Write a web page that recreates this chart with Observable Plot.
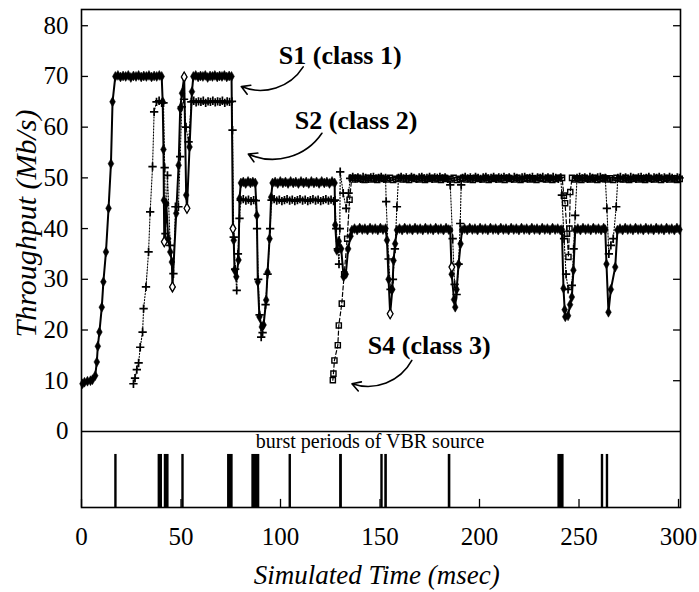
<!DOCTYPE html>
<html><head><meta charset="utf-8">
<script src="https://cdn.jsdelivr.net/npm/d3@7"></script>
<script src="https://cdn.jsdelivr.net/npm/@observablehq/plot@0.6"></script>
<style>
body{margin:0;background:#fff}
#chart svg, #chart svg text { font-family: "Liberation Serif", "Times New Roman", serif !important; }
</style>
</head><body><div id="chart"></div>
<script>
// ---- data (time in msec, throughput in Mb/s) ----
const xTicks = [0, 50, 100, 150, 200, 250, 300];
const yTicks = [0, 10, 20, 30, 40, 50, 60, 70, 80];

const s1 = [[0.5,9.4],[1.5,9.7],[3,9.9],[4.5,10],[5.5,10.2],[6.9,11],[7.7,13.7],[8.2,16.8],[9,19.6],[10.2,24.5],[11,29.5],[12.3,35.4],[13.6,44],[14.8,52.8],[15.6,65],[17,70],
[18.3,70.2],[19.6,69.9],[20.9,70.1],[22.2,70],[23.5,70.2],[24.8,69.8],[26.1,70.1],[27.4,70],[28.7,70.2],[30,69.9],[31.3,70.1],[32.6,70],[33.9,70.2],[35.2,69.9],[36.5,70.1],[37.8,70],[39.1,70.2],[40.3,70],
[40.8,65],[41.2,55.6],[41.4,45.6],[41.6,37.4],[42.6,44.9],[43.6,38],[44.6,35.4],[45.4,33.4],[45.7,28.5],[47.6,43],[48.8,52.5],[49.6,63.7],[50.5,66.7],[51.6,69.9],[52.6,46.6],[53,44],[54.3,56.1],[55.5,67],[56.2,70],
[57.4,70.2],[58.6,69.9],[59.8,70.1],[61,70],[62.2,70.2],[63.4,69.8],[64.6,70.1],[65.8,70],[67,70.2],[68.2,69.9],[69.4,70.1],[70.6,70],[71.8,70.2],[73,69.9],[74.2,70.1],[75.4,70],
[76.1,40],[76.5,37.7],[76.9,31.8],[77.8,30.5],[78.9,33.8],[79.4,45.9],[80.1,49],
[81.3,49.2],[82.5,48.9],[83.7,49.3],[84.9,49],[86.1,49.2],[87.3,49],
[88.1,42.6],[88.6,29.5],[89.4,22.6],[90.6,20.6],[91.5,21],[92.8,25.9],[93.5,31.4],[94.5,38],[95.3,46.2],[96,49],
[97.3,49.2],[98.6,48.9],[99.9,49.3],[101.2,49],[102.5,49.2],[103.8,48.9],[105.1,49.3],[106.4,49],[107.7,49.2],[109,48.9],[110.3,49.3],[111.6,49],[112.9,49.2],[114.2,48.9],[115.5,49.3],[116.8,49],[118.1,49.2],[119.4,48.9],[120.7,49.3],[122,49],[123.3,49.2],[124.6,48.9],[125.9,49.3],[127.2,49],
[127.5,40.7],[128.3,35.7],[129.3,37.5],[130.5,36],[131.7,30.5],[132.8,31],[134,36],[135.2,38.5],[135.9,39.7],
[137.2,40],[138.5,39.7],[139.8,40.1],[141.1,39.8],[142.4,40],[143.7,39.7],[145,40.1],[146.3,39.8],[147.6,40],[148.9,39.7],[150.2,40.1],[151.5,39.8],[152.8,40],
[153.5,37.7],[154.3,30],[155.1,23.2],[156.2,28],[156.8,33.7],[157.6,37],[158.5,39.7],
[159.8,40],[161.1,39.7],[162.4,40.1],[163.7,39.8],[165,40],[166.3,39.7],[167.6,40.1],[168.9,39.8],[170.2,40],[171.5,39.7],[172.8,40.1],[174.1,39.8],[175.4,40],[176.7,39.7],[178,40.1],[179.3,39.8],[180.6,40],[181.9,39.7],[183.2,40.1],[184.5,39.8],[185.3,39.7],
[186,31],[187.2,26],[187.8,24.5],[188.5,28],[189.5,33],[190.5,37],[191.2,39.7],
[192.5,40],[193.8,39.7],[195.1,40.1],[196.4,39.8],[197.7,40],[199,39.7],[200.3,40.1],[201.6,39.8],[202.9,40],[204.2,39.7],[205.5,40.1],[206.8,39.8],[208.1,40],[209.4,39.7],[210.7,40.1],[212,39.8],[213.3,40],[214.6,39.7],[215.9,40.1],[217.2,39.8],[218.5,40],[219.8,39.7],[221.1,40.1],[222.4,39.8],[223.7,40],[225,39.7],[226.3,40.1],[227.6,39.8],[228.9,40],[230.2,39.7],[231.5,40.1],[232.8,39.8],[234.1,40],[235.4,39.7],[236.7,40.1],[238,39.8],[239.3,40],[240.6,39.7],[241.4,39.8],
[242.2,28.2],[242.8,24],[243.1,22.6],[244.5,22.8],[245.5,25],[246.4,26.5],[247.2,31.8],[248.1,39.7],
[249.4,40],[250.7,39.7],[252,40.1],[253.3,39.8],[254.6,40],[255.9,39.7],[257.2,40.1],[258.5,39.8],[259.8,40],[261.1,39.7],[262.4,40.1],[263.2,39.8],
[263.8,33],[264.8,23.5],[266,28],[268.2,32.4],[269.3,39.7],
[270.6,40],[271.9,39.7],[273.2,40.1],[274.5,39.8],[275.8,40],[277.1,39.7],[278.4,40.1],[279.7,39.8],[281,40],[282.3,39.7],[283.6,40.1],[284.9,39.8],[286.2,40],[287.5,39.7],[288.8,40.1],[290.1,39.8],[291.4,40],[292.7,39.7],[294,40.1],[295.3,39.8],[296.6,40],[297.9,39.7],[299.2,40.1],[300.5,39.8]];

const s2 = [[26.1,9.4],[26.9,10.5],[27.8,12.2],[28.7,13.5],[29.5,16.6],[30.7,19.6],[31.2,24.2],[32.4,28.5],[33.7,35.4],[34.5,43.3],[35.7,52.2],[36.5,63],[37.7,65],[39,65.2],[40.3,64.8],[41.2,64.8],[41.8,52],[42.2,39],[43.2,50.5],[44.6,36.7],[46.2,31.1],[47.2,44.3],[48.7,44.3],[49.6,54.2],[50.4,64],[51.5,65.5],[52.5,60],[53.8,57.1],[55.2,65],
[56.4,65.2],[57.6,64.9],[58.8,65.1],[60,65],[61.2,65.2],[62.4,64.8],[63.6,65.1],[64.8,65],[66,65.2],[67.2,64.9],[68.4,65.1],[69.6,65],[70.8,65.2],[72,64.8],[73.2,65.1],[74.4,65],[75.6,65.1],
[75.9,59.4],[76.5,38.3],[77.2,32],[78,27.8],[78.6,35],[79.4,42],[80,45.6],
[81.3,45.8],[82.6,45.5],[83.9,45.7],[85.2,45.4],[86.5,45.6],[87.6,45.5],
[88.2,40],[88.8,30],[89.5,23],[90.3,18.6],[91,19.5],[92.5,25],[93.5,31],[94.8,40],[95.5,45.6],
[96.8,45.8],[98.1,45.5],[99.4,45.7],[100.7,45.4],[102,45.6],[103.3,45.8],[104.6,45.5],[105.9,45.7],[107.2,45.4],[108.5,45.6],[109.8,45.8],[111.1,45.5],[112.4,45.7],[113.7,45.4],[115,45.6],[116.3,45.8],[117.6,45.5],[118.9,45.7],[120.2,45.4],[121.5,45.6],[122.8,45.8],[124.1,45.5],[125.4,45.7],[126.7,45.4],[127.4,45.6],
[128,40],[128.8,36],[129.4,33],[129.8,40],[130,51.2],[131.5,47],[133,44],[134.2,47],[135,49.9],
[136.3,50.2],[137.6,49.9],[138.9,50.1],[140.2,49.8],[141.5,50.2],[142.8,50],[144.1,49.8],[145.4,50.1],[146.7,50.2],[148,49.9],[149.3,50],[150.6,50.2],[151.9,49.8],[152.8,50],
[153.1,45.3],[154.3,34],[155.3,28],[156.5,30],[157.5,36],[158.5,44.3],[159.3,50],
[160.6,50.2],[161.9,49.9],[163.2,50.1],[164.5,49.8],[165.8,50.2],[167.1,50],[168.4,49.8],[169.7,50.1],[171,50.2],[172.3,49.9],[173.6,50],[174.9,50.2],[176.2,49.8],[177.5,50.1],[178.8,50],[180.1,50.2],[181.4,49.9],[182.7,50.1],[184,49.8],[185.3,48.6],
[186.5,38],[187.5,29],[188.5,27],[189.5,33],[190.3,41],[190.8,48.6],[191.5,50],
[192.8,50.2],[194.1,49.9],[195.4,50.1],[196.7,49.8],[198,50.2],[199.3,50],[200.6,49.8],[201.9,50.1],[203.2,50.2],[204.5,49.9],[205.8,50],[207.1,50.2],[208.4,49.8],[209.7,50.1],[211,50],[212.3,50.2],[213.6,49.9],[214.9,50.1],[216.2,49.8],[217.5,50.2],[218.8,50],[220.1,49.8],[221.4,50.1],[222.7,50.2],[224,49.9],[225.3,50],[226.6,50.2],[227.9,49.8],[229.2,50.1],[230.5,50],[231.8,50.2],[233.1,49.9],[234.4,50.1],[235.7,49.8],[237,50.2],[238.3,50],[239.6,49.8],[240.8,50.1],
[241.4,46.6],[242.5,38],[243.5,31],[244.5,28],[246.4,28.8],[247.3,36],[248.1,42.6],[249,50],
[250.3,50.2],[251.6,49.9],[252.9,50.1],[254.2,49.8],[255.5,50.2],[256.8,50],[258.1,49.8],[259.4,50.1],[260.7,50.2],[262,49.9],[263.2,50],
[264,44],[265,35],[266,36.7],[267.2,38],[268.7,44.3],[269.5,50],
[270.8,50.2],[272.1,49.9],[273.4,50.1],[274.7,49.8],[276,50.2],[277.3,50],[278.6,49.8],[279.9,50.1],[281.2,50.2],[282.5,49.9],[283.8,50],[285.1,50.2],[286.4,49.8],[287.7,50.1],[289,50],[290.3,50.2],[291.6,49.9],[292.9,50.1],[294.2,49.8],[295.5,50.2],[296.8,50],[298.1,49.8],[299.4,50.1],[300.5,50]];

const s4 = [[126.3,10.1],[126.6,11.4],[127.1,14],[128.8,17],[129.3,20.9],[130.8,25.2],[132,31],[133.5,38],[134.7,45.7],[135.8,50],
[137.4,49.7],[139,50],[140.6,49.8],[142.2,49.6],[143.8,50],[145.4,49.7],[147,49.9],[148.6,49.6],[150.2,50],[151.8,49.8],[153.4,49.7],[155,50],[156.6,49.6],[158.2,49.8],[159.8,50],[161.4,49.7],[163,49.9],[164.6,49.6],[166.2,50],[167.8,49.8],[169.4,49.7],[171,50],[172.6,49.6],[174.2,49.8],[175.8,50],[177.4,49.7],[179,49.9],[180.6,49.6],[182.2,50],[183.8,49.8],[185.4,49.7],[187,50],[188.6,49.6],[190.2,49.8],[191.8,50],[193.4,49.7],[195,49.9],[196.6,49.6],[198.2,50],[199.8,49.8],[201.4,49.7],[203,50],[204.6,49.6],[206.2,49.8],[207.8,50],[209.4,49.7],[211,49.9],[212.6,49.6],[214.2,50],[215.8,49.8],[217.4,49.7],[219,50],[220.6,49.6],[222.2,49.8],[223.8,50],[225.4,49.7],[227,49.9],[228.6,49.6],[230.2,50],[231.8,49.8],[233.4,49.7],[235,50],[236.6,49.6],[238.2,49.8],[239.8,50],
[241.5,50],[242.4,46.5],[243,45],[244,39],[244.7,34.4],[245.2,40],[245.6,47.2],[246.5,50],
[248,49.7],[249.6,49.9],[251.2,49.6],[252.8,50],[254.4,49.8],[256,49.7],[257.6,50],[259.2,49.6],[260.8,49.8],[262.4,50],[264,49.7],[265.6,49.9],[267.2,49.6],[268.8,50],[270.4,49.8],[272,49.7],[273.6,50],[275.2,49.6],[276.8,49.8],[278.4,50],[280,49.7],[281.6,49.9],[283.2,49.6],[284.8,50],[286.4,49.8],[288,49.7],[289.6,50],[291.2,49.6],[292.8,49.8],[294.4,50],[296,49.7],[297.6,49.9],[299.2,49.6],[300.6,49.8]];

// open-diamond points
const s3 = [[41.6,37.4],[45.7,28.5],[51.6,69.9],[53,44],[76.1,40],[155.1,23.2],[186.1,32.4]];

// burst periods of the VBR source (start, end in msec)
const burstStart = [17.1, 38.9, 42.0, 50.8, 73.8, 86.0, 104.7, 130.1, 150.8, 152.8, 184.7, 239.8, 261.6, 264.1];
const burstEnd   = [17.5, 40.3, 43.6, 51.2, 75.8, 89.2, 105.1, 130.7, 151.2, 153.3, 185.2, 242.1, 262.0, 264.5];

const labels = [
  {text: "S1 (class 1)", t: 130, v: 74},
  {text: "S2 (class 2)", t: 138, v: 61.2},
  {text: "S4 (class 3)", t: 174.7, v: 17}
];
const arrows = [
  {t1: 111.4, v1: 71.9, t2: 80.3, v2: 68},
  {t1: 120.8, v1: 58.8, t2: 83.8, v2: 54.7},
  {t1: 166, v1: 14, t2: 135.9, v2: 9.4}
];
const burstLabel = [{text: "burst periods of VBR source", t: 145, v: -2.1}];
const yTitle = [{text: "Throughput (Mb/s)", t: 0, v: 41}];
const xTitle = [{text: "Simulated Time (msec)", t: 148.4, v: -28.4}];

// ---- build ----
const rows = (pairs) => pairs.map(([t, v]) => ({t, v}));
const S1 = rows(s1), S2 = rows(s2), S3 = rows(s3), S4 = rows(s4);
const bursts = burstStart.map((s, i) => ({s, e: burstEnd[i]}));
const panelBottom = -15, burstTop = -4.54;
const font = "Liberation Serif, Times New Roman, serif";

const chart = Plot.plot({
  width: 699, height: 592,
  marginLeft: 81, marginRight: 19, marginTop: 9, marginBottom: 85,
  x: {domain: [0, 301]},
  y: {domain: [panelBottom, 83.2]},
  style: {fontFamily: font, background: "white", color: "black"},
  marks: [
    Plot.frame({stroke: "black", strokeWidth: 1.6}),
    Plot.ruleY([0], {stroke: "black", strokeWidth: 1.6}),
    Plot.ruleY(yTicks.slice(1), {x1: 0, x2: 3.5, stroke: "black", strokeWidth: 1.3}),
    Plot.ruleY(yTicks.slice(1), {x1: 297.5, x2: 301, stroke: "black", strokeWidth: 1.3}),
    Plot.ruleX(xTicks, {y1: panelBottom, y2: panelBottom + 1.6, stroke: "black", strokeWidth: 1.3}),
    Plot.axisY({ticks: yTicks, tickSize: 0, tickPadding: 13, fontSize: 25, fontFamily: font, label: null}),
    Plot.axisX({ticks: xTicks, tickSize: 0, tickPadding: 20, fontSize: 25, fontFamily: font, label: null}),
    Plot.text(yTitle, {x: "t", y: "v", text: "text", rotate: -90, dx: -55, fontSize: 30, fontStyle: "italic", fontFamily: font}),
    Plot.text(xTitle, {x: "t", y: "v", text: "text", fontSize: 27, fontStyle: "italic", fontFamily: font}),
    // bursts
    Plot.rect(bursts, {x1: "s", x2: "e", y1: panelBottom, y2: burstTop, fill: "black", insetLeft: -0.8, insetRight: -0.8}),
    Plot.text(burstLabel, {x: "t", y: "v", text: "text", fontSize: 20, fontFamily: font}),
    // series lines
    Plot.line(S4, {x: "t", y: "v", stroke: "black", strokeWidth: 1.2, strokeDasharray: "4,2.5"}),
    Plot.line(S2, {x: "t", y: "v", stroke: "black", strokeWidth: 1.1, strokeDasharray: "1.2,1.8"}),
    Plot.line(S1, {x: "t", y: "v", stroke: "black", strokeWidth: 2}),
    // markers
    Plot.dot(S4, {x: "t", y: "v", symbol: "square", r: 2.9, fill: "none", stroke: "black", strokeWidth: 1.4}),
    Plot.dot(S2, {x: "t", y: "v", symbol: "plus", r: 2.8, fill: "none", stroke: "black", strokeWidth: 1.7}),
    Plot.dot(S1, {x: "t", y: "v", symbol: "diamond", r: 3, fill: "black", stroke: "black", strokeWidth: 0.5}),
    Plot.dot(S3, {x: "t", y: "v", symbol: "diamond", r: 3, fill: "white", stroke: "black", strokeWidth: 1.3}),
    // annotations
    Plot.text(labels, {x: "t", y: "v", text: "text", fontSize: 26, fontWeight: "bold", fontFamily: font}),
    Plot.arrow(arrows, {x1: "t1", y1: "v1", x2: "t2", y2: "v2", bend: 40, headLength: 9, stroke: "black", strokeWidth: 1.6})
  ]
});
document.getElementById("chart").appendChild(chart);
</script>
</body></html>
